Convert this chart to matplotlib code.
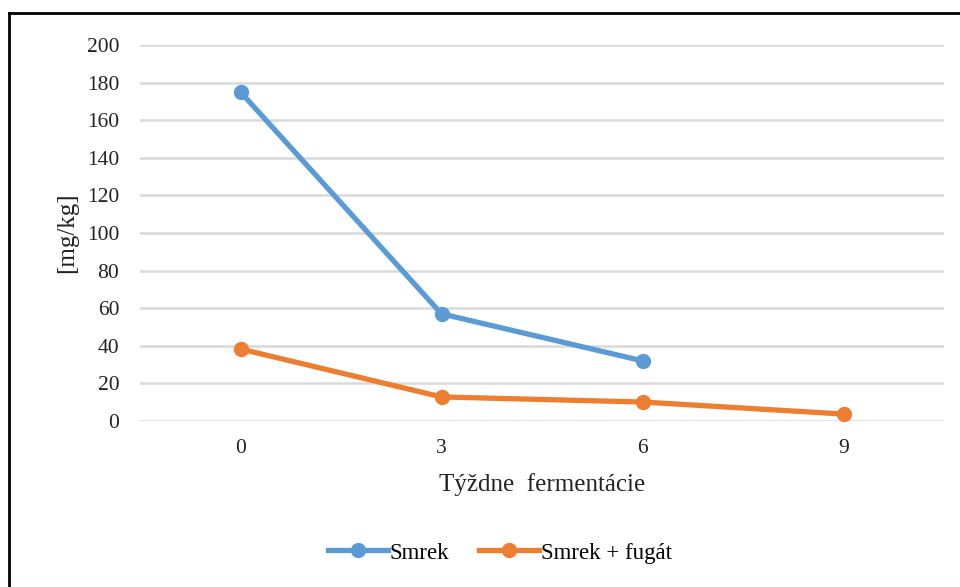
import matplotlib.pyplot as plt
from matplotlib.lines import Line2D
import numpy as np

# datos
tyzdne = ['0', '3', '6', '9']
smrek = [175, 57, 32, np.nan]
smrek_fugat = [38.3, 12.8, 10.1, 3.7]

plt.rcParams['font.family'] = ['Liberation Serif', 'DejaVu Serif']

fig = plt.figure(figsize=(9.6, 5.87), dpi=100)
ax = fig.add_axes([140 / 960, 1 - 421 / 587, 804 / 960, 376 / 587])

x = np.arange(len(tyzdne))
ax.plot(x, smrek, '-o', color='#5B9BD5', lw=3.8, ms=10, label='Smrek')
ax.plot(x, smrek_fugat, '-o', color='#ED7D31', lw=3.8, ms=10, label='Smrek + fugát')

ax.set_xlim(-0.5, len(tyzdne) - 0.5)
ax.set_ylim(0, 200)
ax.set_yticks(range(0, 201, 20))
ax.set_xticks(x)
ax.set_xticklabels(tyzdne)
ax.tick_params(length=0, labelsize=15.5, colors='#222222')
ax.tick_params(axis='y', pad=15)
ax.tick_params(axis='x', pad=13)
ax.grid(axis='y', color='#d9d9d9', lw=1.8)
ax.set_axisbelow(True)
for s in ax.spines.values():
    s.set_visible(False)

ax.set_xlabel('Týždne  fermentácie', fontsize=18, color='#222222', labelpad=11)
ax.set_ylabel('[mg/kg]', fontsize=18, color='#222222', labelpad=6)

ax.legend(loc='center', bbox_to_anchor=(500 / 960, 1 - 553 / 587),
          bbox_transform=fig.transFigure, ncol=2, frameon=False,
          fontsize=16.5, handlelength=2.6, columnspacing=1.3, handletextpad=0.1)

# marco de la figura
fig.add_artist(Line2D([9 / 960, 1], [1 - 13 / 587, 1 - 13 / 587], color='black', lw=2))
fig.add_artist(Line2D([9 / 960, 9 / 960], [0, 1 - 13 / 587], color='black', lw=2))

fig.savefig('out.png', dpi=100)
